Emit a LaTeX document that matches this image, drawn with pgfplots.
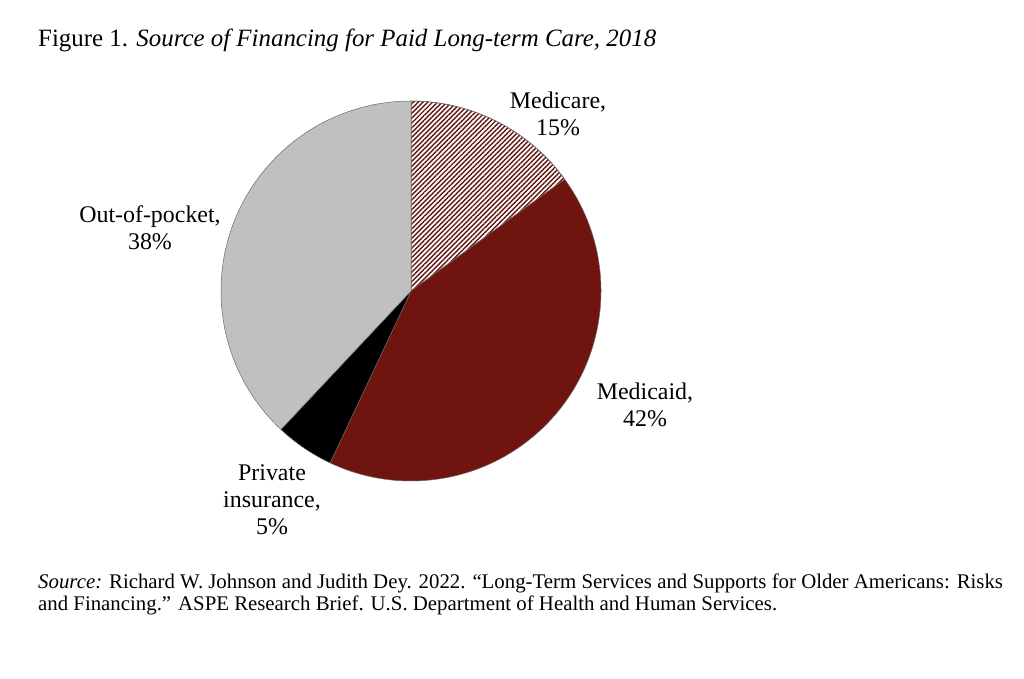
\documentclass[border=0pt]{standalone}
\usepackage{pgfplots}
\pgfplotsset{compat=1.18}
\usepackage{fontspec}
\setmainfont{Liberation Serif}
\usetikzlibrary{patterns.meta}
\definecolor{medicaid}{HTML}{70140F}
\definecolor{medicare}{HTML}{621410}
\definecolor{oop}{HTML}{C0C0C0}
\definecolor{edge}{HTML}{6A6A6A}
% shares in percent: Medicare, Medicaid, Private insurance, Out-of-pocket
\def\vMedicare{15}
\def\vMedicaid{42}
\def\vPrivate{5}
\def\vOOP{38}
\begin{document}
\begin{tikzpicture}
\useasboundingbox (0bp,0bp) rectangle (1024bp,679bp);
\pgfmathsetmacro\aA{90}
\pgfmathsetmacro\aB{\aA-3.6*\vMedicare}
\pgfmathsetmacro\aC{\aB-3.6*\vMedicaid}
\pgfmathsetmacro\aD{\aC-3.6*\vPrivate}
\pgfmathsetmacro\aE{\aD-3.6*\vOOP}
\begin{axis}[at={(411bp,388bp)}, anchor=center, width=380bp, height=380bp, scale only axis,
  xmin=-1, xmax=1, ymin=-1, ymax=1, hide axis, clip=false]
\filldraw[fill=white, draw=edge, line width=0.5bp] (axis cs:0,0) -- (axis cs:{cos(\aA)},{sin(\aA)}) arc[start angle=\aA, end angle=\aB, radius=190bp] -- cycle;
\fill[pattern={Lines[angle=45,distance=3.4bp,line width=1.4bp]}, pattern color=medicare] (axis cs:0,0) -- (axis cs:{cos(\aA)},{sin(\aA)}) arc[start angle=\aA, end angle=\aB, radius=190bp] -- cycle;
\draw[edge, line width=0.5bp] (axis cs:0,0) -- (axis cs:{cos(\aA)},{sin(\aA)}) arc[start angle=\aA, end angle=\aB, radius=190bp] -- cycle;
\filldraw[fill=medicaid, draw=edge, line width=0.5bp] (axis cs:0,0) -- (axis cs:{cos(\aB)},{sin(\aB)}) arc[start angle=\aB, end angle=\aC, radius=190bp] -- cycle;
\filldraw[fill=black, draw=edge, line width=0.5bp] (axis cs:0,0) -- (axis cs:{cos(\aC)},{sin(\aC)}) arc[start angle=\aC, end angle=\aD, radius=190bp] -- cycle;
\filldraw[fill=oop, draw=edge, line width=0.5bp] (axis cs:0,0) -- (axis cs:{cos(\aD)},{sin(\aD)}) arc[start angle=\aD, end angle=\aE, radius=190bp] -- cycle;
\end{axis}
\node[align=center, font=\fontsize{24}{27}\selectfont] at (558bp,565bp) {Medicare,\\\vMedicare\%};
\node[align=center, font=\fontsize{24}{27}\selectfont] at (645bp,274bp) {Medicaid,\\\vMedicaid\%};
\node[align=center, font=\fontsize{24}{27}\selectfont] at (272bp,179bp) {Private\\insurance,\\\vPrivate\%};
\node[align=center, font=\fontsize{24}{27}\selectfont] at (150bp,451bp) {Out-of-pocket,\\\vOOP\%};
\node[anchor=base west, inner sep=0pt, font=\fontsize{25}{28}\selectfont] at (38bp,632bp) {Figure 1. \textit{Source of Financing for Paid Long-term Care, 2018}};
\node[anchor=base west, inner sep=0pt, font=\fontsize{20.9}{24}\selectfont] at (38bp,90bp) {\textit{Source:} Richard W. Johnson and Judith Dey. 2022. “Long-Term Services and Supports for Older Americans: Risks};
\node[anchor=base west, inner sep=0pt, font=\fontsize{20.9}{24}\selectfont] at (38bp,68bp) {and Financing.” ASPE Research Brief. U.S. Department of Health and Human Services.};
\end{tikzpicture}
\end{document}
